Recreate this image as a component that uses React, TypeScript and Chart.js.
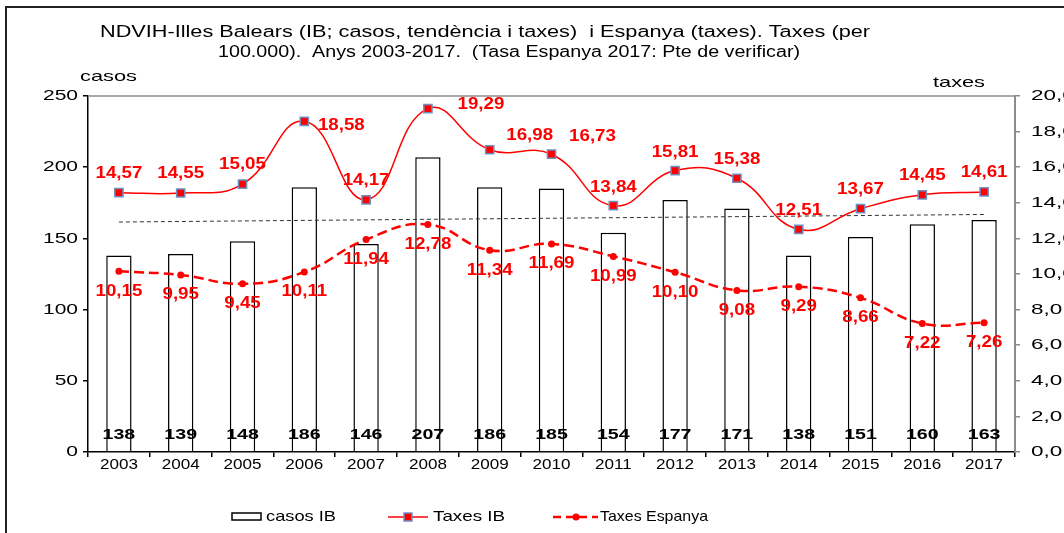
import React, { useEffect, useRef } from 'react';
import { Chart, registerables } from 'chart.js';

Chart.register(...registerables);

// ---------- data ----------
const years = ['2003', '2004', '2005', '2006', '2007', '2008', '2009', '2010', '2011', '2012', '2013', '2014', '2015', '2016', '2017'];
const casosIB = [138, 139, 148, 186, 146, 207, 186, 185, 154, 177, 171, 138, 151, 160, 163];
const taxesIB = [14.57, 14.55, 15.05, 18.58, 14.17, 19.29, 16.98, 16.73, 13.84, 15.81, 15.38, 12.51, 13.67, 14.45, 14.61];
const taxesEspanya = [10.15, 9.95, 9.45, 10.11, 11.94, 12.78, 11.34, 11.69, 10.99, 10.1, 9.08, 9.29, 8.66, 7.22, 7.26];
// linear trend of casos, value read at first and last year
const trendCasos = [161.5, 166.8];

const titleLines = [
  'NDVIH-Illes Balears (IB; casos, tendència i taxes)  i Espanya (taxes). Taxes (per',
  '100.000).  Anys 2003-2017.  (Tasa Espanya 2017: Pte de verificar)',
];
const leftAxisTitle = 'casos';
const rightAxisTitle = 'taxes';
const legendLabels = ['casos IB', 'Taxes IB', 'Taxes Espanya'];

// ---------- layout / style (not data) ----------
const FONT = "'Liberation Sans', Arial, sans-serif";
const ibLabelOffsets: [number, number][] = [
  [0, -19], [0, -19], [0, -20], [37, 4], [0, -19], [53, -4], [40, -14], [41, -18],
  [0, -18], [0, -18], [0, -19], [0, -19], [0, -19], [0, -19], [0, -19],
];
const espLabelOffset = 20;

const fmt = (v: number, d: number) => v.toFixed(d).replace('.', ',');

// text drawn with a horizontal stretch (the reference's glyphs are wide)
function txt(ctx: any, s: string, x: number, y: number, font: string, color: string, align: string, sx: number) {
  ctx.save();
  ctx.font = font;
  ctx.fillStyle = color;
  ctx.textAlign = align;
  ctx.textBaseline = 'middle';
  ctx.translate(x, y);
  ctx.scale(sx, 1);
  ctx.fillText(s, 0, 0);
  ctx.restore();
}

// text stretched to span x0..x1
function txtFit(ctx: any, s: string, x0: number, x1: number, y: number, font: string, color: string) {
  ctx.save();
  ctx.font = font;
  const w = ctx.measureText(s).width;
  ctx.fillStyle = color;
  ctx.textAlign = 'left';
  ctx.textBaseline = 'middle';
  ctx.translate(x0, y);
  ctx.scale((x1 - x0) / w, 1);
  ctx.fillText(s, 0, 0);
  ctx.restore();
}

// draw the scale's own label items, but horizontally stretched
function patchScale(scale: any, sx: number) {
  if (!scale || scale.__patched) return;
  scale.drawLabels = function (area: any) {
    const ctx = this.ctx;
    const items = this.getLabelItems(area);
    for (const it of items) {
      const o = it.options;
      ctx.save();
      ctx.translate(o.translation[0], o.translation[1]);
      if (o.rotation) ctx.rotate(o.rotation);
      ctx.scale(sx, 1);
      ctx.font = it.font.string;
      ctx.fillStyle = o.color;
      ctx.textAlign = o.textAlign;
      ctx.textBaseline = o.textBaseline;
      const lbl = Array.isArray(it.label) ? it.label.join(' ') : String(it.label);
      ctx.fillText(lbl, 0, it.textOffset);
      ctx.restore();
    }
  };
  scale.__patched = true;
}

const decorPlugin = {
  id: 'decor',
  afterUpdate(chart: any) {
    patchScale(chart.scales.x, 1.22);
    patchScale(chart.scales.y, 1.4);
    patchScale(chart.scales.y1, 1.5);
  },
  beforeDatasetsDraw(chart: any) {
    const { ctx, chartArea } = chart;
    ctx.save();
    ctx.strokeStyle = '#8c8c8c';
    ctx.lineWidth = 1.5;
    ctx.beginPath();
    ctx.moveTo(chartArea.left, chartArea.top);
    ctx.lineTo(chartArea.right, chartArea.top);
    ctx.stroke();
    ctx.restore();
  },
  afterDatasetsDraw(chart: any) {
    const ctx = chart.ctx;
    const yScale = chart.scales.y;
    const y0 = yScale.getPixelForValue(0);
    const metaBar = chart.getDatasetMeta(3);
    metaBar.data.forEach((el: any, i: number) => {
      txt(ctx, String(casosIB[i]), el.x, y0 - 17, `bold 14px ${FONT}`, '#000', 'center', 1.4);
    });
    const metaIB = chart.getDatasetMeta(0);
    metaIB.data.forEach((el: any, i: number) => {
      const [dx, dy] = ibLabelOffsets[i];
      txt(ctx, fmt(taxesIB[i], 2), el.x + dx, el.y + dy, `bold 16px ${FONT}`, '#ff0000', 'center', 1.17);
    });
    const metaEs = chart.getDatasetMeta(1);
    metaEs.data.forEach((el: any, i: number) => {
      txt(ctx, fmt(taxesEspanya[i], 2), el.x, el.y + espLabelOffset, `bold 16px ${FONT}`, '#ff0000', 'center', 1.17);
    });
  },
  afterDraw(chart: any) {
    const ctx = chart.ctx;
    // title
    txtFit(ctx, titleLines[0], 100, 870, 33, `16px ${FONT}`, '#000');
    txtFit(ctx, titleLines[1], 218, 800, 53, `16px ${FONT}`, '#000');
    // axis titles
    txtFit(ctx, leftAxisTitle, 80, 137, 77, `15px ${FONT}`, '#000');
    txtFit(ctx, rightAxisTitle, 933, 985, 83, `15px ${FONT}`, '#000');
    // legend
    const ly = 517;
    ctx.save();
    ctx.fillStyle = '#fff';
    ctx.strokeStyle = '#000';
    ctx.lineWidth = 1.5;
    ctx.fillRect(232, 513, 29, 7);
    ctx.strokeRect(232, 513, 29, 7);
    ctx.restore();
    txtFit(ctx, legendLabels[0], 266, 336, ly, `15px ${FONT}`, '#000');

    ctx.save();
    ctx.strokeStyle = '#ff0000';
    ctx.lineWidth = 1.5;
    ctx.beginPath();
    ctx.moveTo(388, ly);
    ctx.lineTo(428, ly);
    ctx.stroke();
    ctx.fillStyle = '#ff0000';
    ctx.strokeStyle = '#6f8fc4';
    ctx.lineWidth = 1.5;
    ctx.fillRect(404, ly - 4, 8, 8);
    ctx.strokeRect(404, ly - 4, 8, 8);
    ctx.restore();
    txtFit(ctx, legendLabels[1], 433, 505, ly, `15px ${FONT}`, '#000');

    ctx.save();
    ctx.strokeStyle = '#ff0000';
    ctx.lineWidth = 2.5;
    ctx.setLineDash([8, 5]);
    ctx.beginPath();
    ctx.moveTo(553, ly);
    ctx.lineTo(598, ly);
    ctx.stroke();
    ctx.setLineDash([]);
    ctx.fillStyle = '#ff0000';
    ctx.beginPath();
    ctx.arc(576, ly, 3.5, 0, Math.PI * 2);
    ctx.fill();
    ctx.restore();
    txtFit(ctx, legendLabels[2], 600, 708, ly, `15px ${FONT}`, '#000');
  },
};

export default function App() {
  const ref = useRef<HTMLCanvasElement>(null);
  useEffect(() => {
    const chart = new Chart(ref.current as HTMLCanvasElement, {
      type: 'bar',
      data: {
        labels: years,
        datasets: [
          {
            type: 'line',
            label: legendLabels[1],
            data: taxesIB,
            yAxisID: 'y1',
            borderColor: '#ff0000',
            borderWidth: 1.5,
            tension: 0.45,
            pointStyle: 'rect',
            pointRadius: 5.8,
            pointBackgroundColor: '#ff0000',
            pointBorderColor: '#6f8fc4',
            pointBorderWidth: 1.5,
            order: 0,
          } as any,
          {
            type: 'line',
            label: legendLabels[2],
            data: taxesEspanya,
            yAxisID: 'y1',
            borderColor: '#ff0000',
            borderWidth: 2.5,
            borderDash: [10, 5],
            tension: 0.45,
            pointStyle: 'circle',
            pointRadius: 3.5,
            pointBackgroundColor: '#ff0000',
            pointBorderColor: '#ff0000',
            pointBorderWidth: 0,
            order: 1,
          } as any,
          {
            type: 'line',
            label: 'tendència',
            data: [
              { x: years[0], y: trendCasos[0] },
              { x: years[years.length - 1], y: trendCasos[1] },
            ],
            yAxisID: 'y',
            borderColor: '#333',
            borderWidth: 1,
            borderDash: [4, 3],
            pointRadius: 0,
            order: 2,
          } as any,
          {
            type: 'bar',
            label: legendLabels[0],
            data: casosIB,
            yAxisID: 'y',
            backgroundColor: '#ffffff',
            borderColor: '#000000',
            borderWidth: 1.5,
            barPercentage: 0.41,
            categoryPercentage: 1,
            order: 3,
          } as any,
        ],
      },
      options: {
        responsive: false,
        animation: false,
        devicePixelRatio: 1,
        layout: { padding: { top: 96, left: 0, right: 0, bottom: 0 } },
        plugins: {
          legend: { display: false },
          tooltip: { enabled: false },
          title: { display: false },
        },
        scales: {
          x: {
            offset: true,
            grid: { display: true, drawOnChartArea: false, drawTicks: true, tickLength: 5, color: '#000', lineWidth: 1.5, offset: true },
            border: { display: true, color: '#000', width: 1.5 },
            ticks: { color: '#000', font: { family: FONT, size: 14 }, padding: 0, maxRotation: 0, autoSkip: false },
            afterFit(s: any) { s.height = 81; },
          },
          y: {
            position: 'left',
            min: 0,
            max: 250,
            ticks: { stepSize: 50, color: '#000', font: { family: FONT, size: 15 }, padding: 5 },
            grid: { drawOnChartArea: false, drawTicks: true, tickLength: 5, color: '#000', lineWidth: 1.5 },
            border: { display: true, color: '#000', width: 1.5 },
            afterFit(s: any) { s.width = 88; },
          },
          y1: {
            position: 'right',
            min: 0,
            max: 20,
            ticks: { stepSize: 2, color: '#000', font: { family: FONT, size: 15 }, padding: 11, callback: (v: any) => fmt(Number(v), 1) },
            grid: { drawOnChartArea: false, drawTicks: true, tickLength: 5, color: '#8c8c8c', lineWidth: 1.5 },
            border: { display: true, color: '#8c8c8c', width: 2 },
            afterFit(s: any) { s.width = 85; },
          },
        },
      } as any,
      plugins: [decorPlugin],
    });
    return () => chart.destroy();
  }, []);

  return (
    <div style={{ position: 'fixed', left: 0, top: 0, width: 1064, height: 533, overflow: 'hidden', background: '#fff' }}>
      <div
        style={{
          position: 'absolute',
          left: 5,
          top: 6,
          width: 1200,
          height: 700,
          borderLeft: '2px solid #222',
          borderTop: '2px solid #222',
        }}
      />
      <canvas ref={ref} width={1100} height={533} style={{ position: 'absolute', left: 0, top: 0, display: 'block' }} />
    </div>
  );
}
